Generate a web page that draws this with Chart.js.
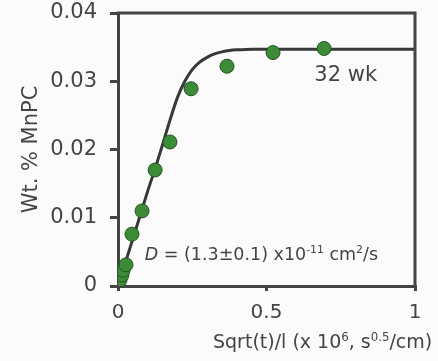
<!DOCTYPE html>
<html><head><meta charset="utf-8">
<script src="https://cdn.jsdelivr.net/npm/chart.js@4/dist/chart.umd.min.js"></script>
<style>html,body{margin:0;padding:0;background:#fbfbfb;}canvas{display:block;}</style>
</head><body>
<canvas id="c" width="438" height="361"></canvas>
<script>
// measured data (Wt. % MnPC vs sqrt(t)/l)
const xMeasured = [0.001, 0.007, 0.013, 0.017, 0.027, 0.047, 0.081, 0.125, 0.175, 0.246, 0.367, 0.522, 0.694];
const yMeasured = [0.0001, 0.0009, 0.0016, 0.0023, 0.0031, 0.0076, 0.0110, 0.0170, 0.0211, 0.0289, 0.0322, 0.0342, 0.0348];
// fitted diffusion curve
const xFit = [0, 0.05, 0.1, 0.125, 0.15, 0.175, 0.2, 0.225, 0.25, 0.275, 0.3, 0.325, 0.35, 0.375, 0.4, 0.45, 0.5, 0.6, 0.8, 1.0];
const yFit = [0, 0.0069, 0.0139, 0.0172, 0.0207, 0.0243, 0.0276, 0.0300, 0.0317, 0.0328, 0.0335, 0.0340, 0.0343, 0.0345, 0.0346, 0.0347, 0.0347, 0.0347, 0.0347, 0.0347];
// tick labels
const xTicks = [0, 0.5, 1];
const yTicks = [0, 0.01, 0.02, 0.03, 0.04];
const xTickLabels = ['0', '0.5', '1'];
const yTickLabels = ['0', '0.01', '0.02', '0.03', '0.04'];
// texts
const yTitle = 'Wt. % MnPC';
const seriesLabel = '32 wk';

const AX = '#444444';
const FONT = "'DejaVu Sans', sans-serif";

const measured = xMeasured.map((x, i) => ({x, y: yMeasured[i]}));
const fit = xFit.map((x, i) => ({x, y: yFit[i]}));

function richText(ctx, x, y, parts, size) {
  let cx = x;
  for (const [t, k] of parts) {
    const s = k === 'sup' ? size * 0.62 : size;
    ctx.font = (k === 'it' ? 'italic ' : '') + s + 'px ' + FONT;
    const dy = k === 'sup' ? -size * 0.38 : 0;
    ctx.fillText(t, cx, y + dy);
    cx += ctx.measureText(t).width;
  }
  return cx - x;
}

const decor = {
  id: 'decor',
  afterDraw(chart) {
    const {ctx, chartArea: a, scales} = chart;
    ctx.save();
    ctx.strokeStyle = AX;
    ctx.lineWidth = 3;
    ctx.beginPath();
    ctx.moveTo(a.left - 1.5, a.top);
    ctx.lineTo(a.right, a.top);
    ctx.lineTo(a.right, a.bottom + 1.5);
    ctx.stroke();
    ctx.fillStyle = AX;
    ctx.textBaseline = 'alphabetic';
    ctx.font = '21px ' + FONT;
    ctx.fillText(seriesLabel, scales.x.getPixelForValue(0.661), scales.y.getPixelForValue(0.0300));
    richText(ctx, scales.x.getPixelForValue(0.09), scales.y.getPixelForValue(0.0038), [
      ['D', 'it'], [' = (1.3\u00b10.1) x10', 'n'], ['-11', 'sup'], [' cm', 'n'], ['2', 'sup'], ['/s', 'n']
    ], 17.5);
    richText(ctx, 213, 348, [
      ['Sqrt(t)/l (x 10', 'n'], ['6', 'sup'], [', s', 'n'], ['0.5', 'sup'], ['/cm)', 'n']
    ], 19);
    ctx.restore();
  }
};

new Chart(document.getElementById('c'), {
  type: 'scatter',
  data: {
    datasets: [
      {
        label: seriesLabel,
        data: measured,
        order: 0,
        pointRadius: 7,
        pointBackgroundColor: '#3c8c37',
        pointBorderColor: '#24521f',
        pointBorderWidth: 1
      },
      {
        label: 'fit',
        data: fit,
        order: 1,
        showLine: true,
        pointRadius: 0,
        borderColor: '#383838',
        borderWidth: 3,
        cubicInterpolationMode: 'monotone',
        fill: false
      }
    ]
  },
  options: {
    responsive: false,
    animation: false,
    devicePixelRatio: 1,
    layout: {padding: {top: 13, right: 23, left: 0, bottom: 0}},
    plugins: {legend: {display: false}, tooltip: {enabled: false}},
    scales: {
      x: {
        type: 'linear', min: 0, max: 1,
        afterFit(s) { s.height = 75; s.paddingLeft = 0; s.paddingRight = 23; },
        afterBuildTicks(s) { s.ticks = xTicks.map(v => ({value: v})); },
        grid: {drawOnChartArea: false, drawTicks: true, tickLength: 5, color: AX, lineWidth: 3},
        border: {display: true, color: AX, width: 3},
        ticks: {
          color: AX, font: {family: FONT, size: 20}, padding: 10, maxRotation: 0,
          callback: (v) => xTickLabels[xTicks.indexOf(v)]
        }
      },
      y: {
        type: 'linear', min: 0, max: 0.04,
        afterFit(s) { s.width = 118; s.paddingTop = 13; s.paddingBottom = 0; },
        afterBuildTicks(s) { s.ticks = yTicks.map(v => ({value: v})); },
        grid: {drawOnChartArea: false, drawTicks: true, tickLength: 8, color: AX, lineWidth: 3},
        border: {display: true, color: AX, width: 3},
        title: {display: true, text: yTitle, color: AX, font: {family: FONT, size: 21}, padding: {top: 19, bottom: 0}},
        ticks: {
          color: AX, font: {family: FONT, size: 21}, padding: 13,
          callback: (v) => yTickLabels[yTicks.indexOf(v)]
        }
      }
    }
  },
  plugins: [decor]
});
</script>
</body></html>
